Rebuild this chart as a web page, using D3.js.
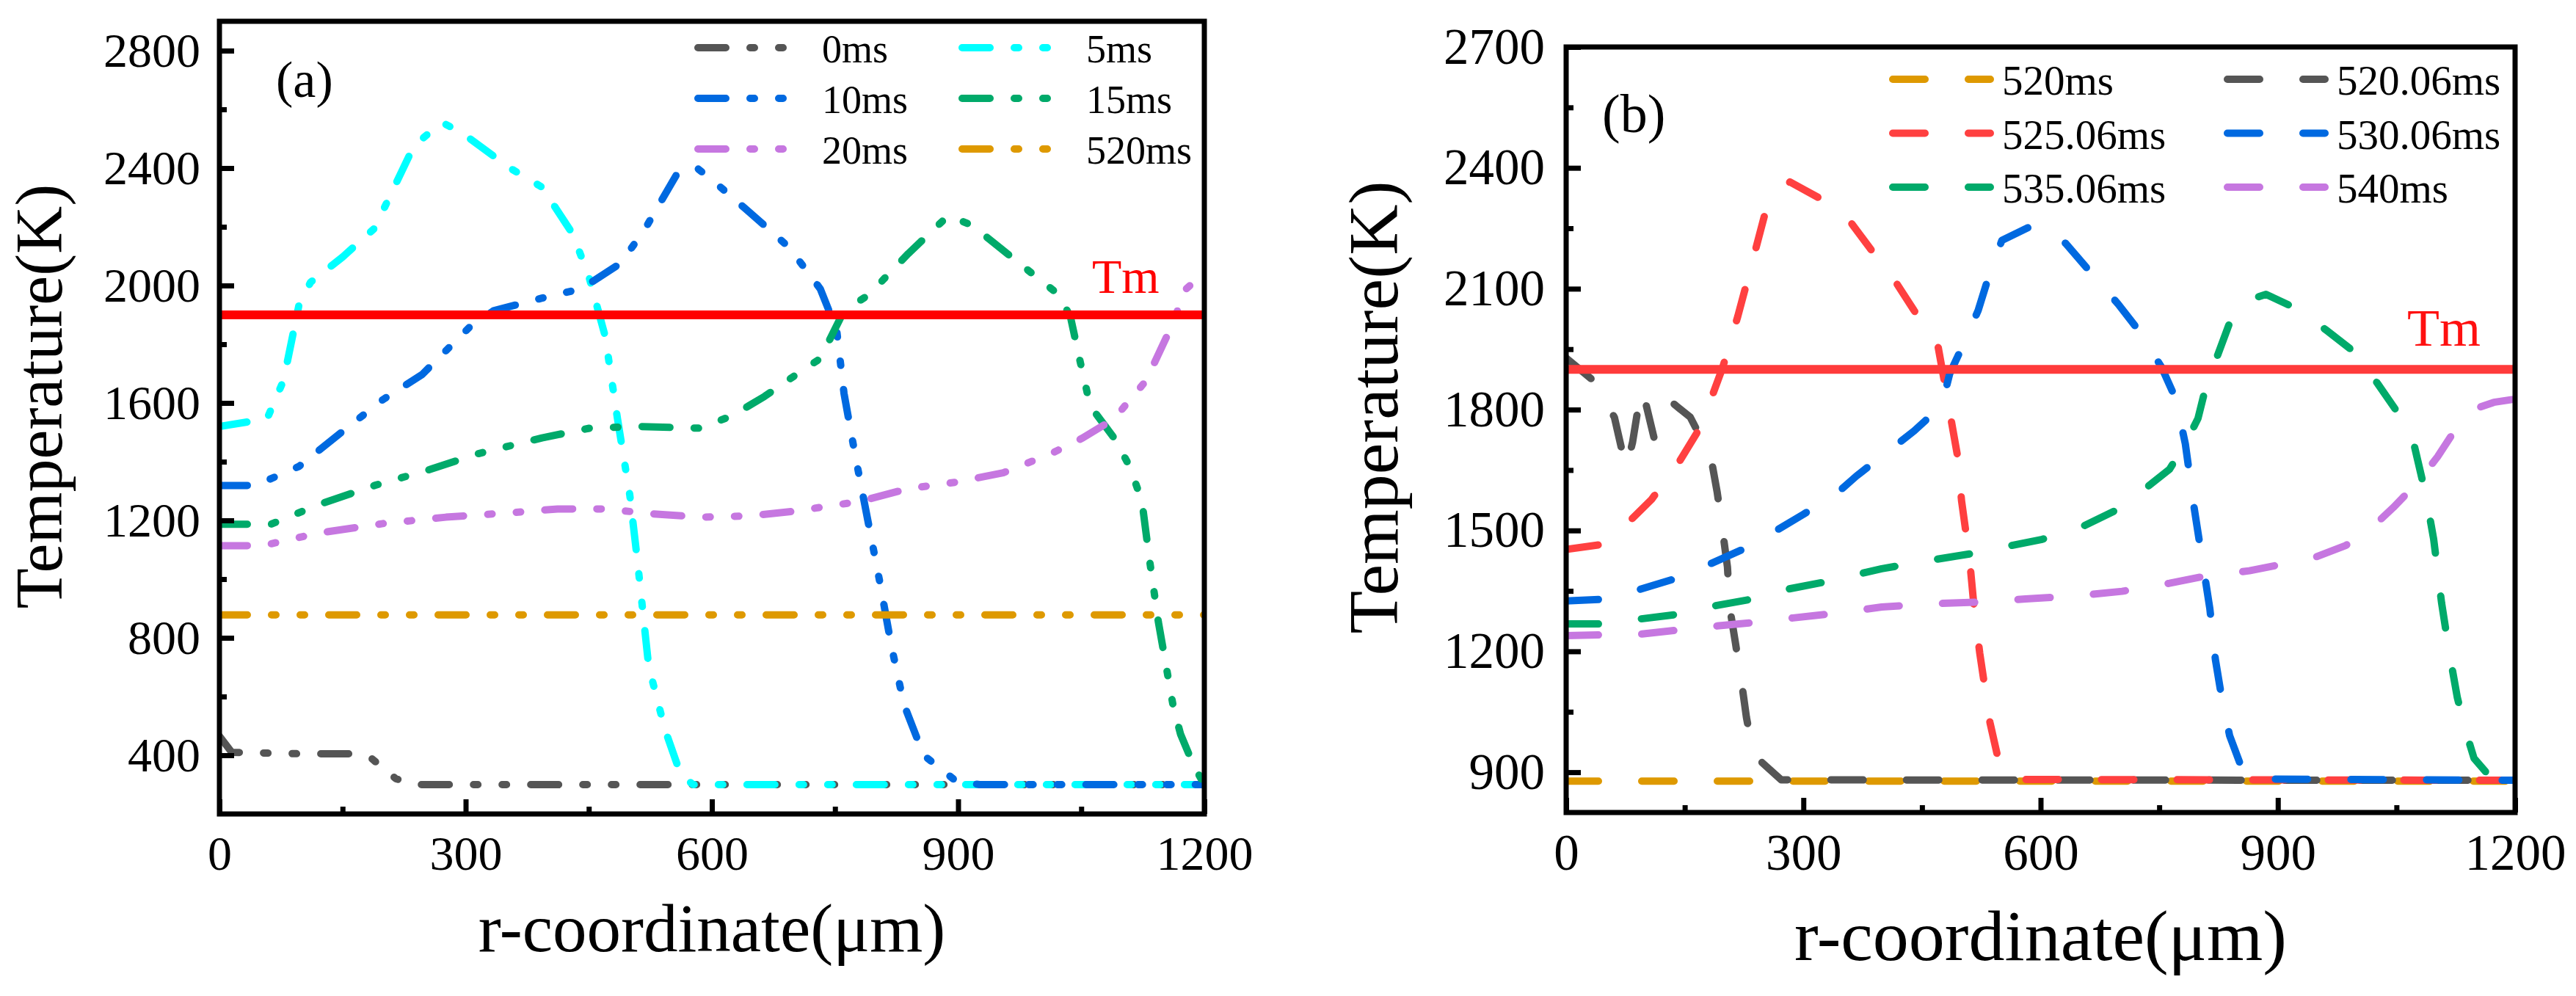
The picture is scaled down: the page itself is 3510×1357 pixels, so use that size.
<!DOCTYPE html>
<html>
<head>
<meta charset="utf-8">
<script src="https://cdn.jsdelivr.net/npm/d3@7"></script>
<style>
  body { margin: 0; background: #fff; }
  svg text { font-family: "Liberation Serif", "Times New Roman", serif; }
</style>
</head>
<body>
<svg id="chart" width="3510" height="1357"></svg>
<script>
// ---- data: panel (a), [r (um), T (K)] ----
var namesA = ["0ms", "5ms", "10ms", "15ms", "20ms", "520ms"];
var colorsA = ["#555555", "#00ffff", "#0069e0", "#00aa6a", "#c677e0", "#de9900"];

var a0ms = [[0,465],[15,410],[100,405],[160,405],[185,390],[215,320],[240,300],[1200,300]];
var a5ms = [[0,1520],[58,1546],[78,1676],[97,1935],[111,2011],[150,2097],[189,2195],[237,2476],
  [271,2556],[296,2519],[354,2400],[393,2335],[431,2173],[451,2022],[470,1827],[485,1546],
  [500,1286],[509,1070],[523,703],[543,486],[562,335],[577,300],[1200,300]];
var a10ms = [[0,1319],[44,1319],[97,1384],[150,1503],[199,1611],[247,1697],[305,1859],[334,1914],
  [393,1957],[441,1989],[489,2076],[519,2195],[557,2378],[582,2400],[606,2346],[655,2227],
  [694,2130],[732,1989],[752,1849],[761,1632],[775,1416],[790,1200],[805,984],[819,768],
  [834,573],[858,400],[897,313],[926,300],[1200,300]];
var a15ms = [[0,1187],[63,1187],[121,1254],[189,1319],[256,1373],[315,1427],[393,1481],[451,1514],
  [509,1520],[586,1514],[625,1557],[664,1622],[703,1697],[732,1751],[761,1914],[791,1968],
  [839,2108],[888,2238],[917,2205],[965,2097],[1023,1968],[1037,1892],[1047,1762],[1061,1589],
  [1090,1481],[1109,1384],[1124,1265],[1133,1070],[1144,854],[1162,568],[1171,472],[1181,405],
  [1184,380],[1200,300]];
var a20ms = [[0,1114],[53,1114],[121,1157],[199,1189],[276,1211],[354,1226],[412,1239],[470,1239],
  [529,1222],[586,1211],[645,1215],[703,1232],[781,1265],[839,1308],[897,1330],[955,1362],
  [1013,1427],[1052,1481],[1090,1546],[1129,1676],[1158,1849],[1178,1989],[1200,2043]];
var a520ms = [[0,878],[1200,878]];
var seriesA = [a0ms, a5ms, a10ms, a15ms, a20ms, a520ms];

// ---- data: panel (b) ----
var namesB = ["520ms", "520.06ms", "525.06ms", "530.06ms", "535.06ms", "540ms"];
var colorsB = ["#de9900", "#555555", "#ff4040", "#0069e0", "#00aa6a", "#c677e0"];

var b520ms = [[0,878],[1200,878]];
var b520_06 = [[0,1928],[32,1876],[61,1781],[71,1695],[76,1655],[84,1719],[91,1804],[95,1850],
  [101,1813],[111,1731],[133,1819],[157,1781],[183,1682],[191,1595],[198,1497],[204,1409],
  [207,1307],[214,1222],[222,1121],[228,1036],[237,943],[272,881],[1200,880]];
var b525_06 = [[0,1453],[41,1464],[77,1517],[108,1577],[141,1664],[165,1741],[186,1841],[198,1905],
  [217,2031],[232,2141],[253,2298],[283,2365],[323,2322],[359,2267],[389,2188],[414,2125],
  [440,2046],[470,1960],[478,1873],[485,1795],[495,1684],[500,1574],[510,1432],[516,1306],
  [523,1196],[529,1117],[536,1023],[546,936],[561,889],[581,882],[1200,880]];
var b530_06 = [[0,1325],[45,1329],[92,1353],[134,1378],[181,1416],[221,1451],[264,1498],[300,1540],
  [344,1595],[367,1635],[399,1684],[440,1747],[475,1810],[485,1889],[500,1952],[521,2046],
  [536,2141],[551,2220],[592,2259],[632,2212],[663,2141],[698,2062],[723,1999],[753,1905],
  [771,1826],[783,1715],[794,1558],[804,1432],[814,1306],[821,1180],[829,1085],[839,991],
  [854,912],[875,883],[1200,880]];
var b535_06 = [[0,1268],[45,1268],[92,1280],[138,1291],[188,1313],[233,1329],[282,1355],[324,1371],
  [399,1405],[460,1426],[521,1445],[561,1462],[602,1478],[652,1509],[693,1548],[733,1605],
  [763,1652],[783,1715],[799,1778],[809,1857],[824,1936],[839,2015],[859,2070],[885,2086],
  [920,2054],[960,1999],[996,1944],[1026,1865],[1051,1794],[1072,1715],[1087,1589],[1097,1479],
  [1107,1321],[1117,1195],[1127,1085],[1137,1006],[1148,935],[1168,889],[1198,882]];
var b540ms = [[0,1239],[45,1241],[96,1243],[138,1252],[191,1263],[235,1271],[287,1283],[330,1292],
  [399,1310],[460,1318],[521,1322],[581,1330],[642,1337],[703,1349],[763,1369],[804,1385],
  [864,1400],[905,1416],[945,1432],[986,1463],[1016,1502],[1046,1557],[1077,1620],[1102,1683],
  [1123,1746],[1148,1801],[1173,1818],[1200,1826]];
var seriesB = [b520ms, b520_06, b525_06, b530_06, b535_06, b540ms];

var meltTemp = 1900;
var xTicks = [0, 300, 600, 900, 1200];
var xMinor = [150, 450, 750, 1050];
var yTicksA = [400, 800, 1200, 1600, 2000, 2400, 2800];
var yMinorA = [600, 1000, 1400, 1800, 2200, 2600];
var yTicksB = [900, 1200, 1500, 1800, 2100, 2400, 2700];
var yMinorB = [1050, 1350, 1650, 1950, 2250, 2550];

var serif = "Liberation Serif, Times New Roman, serif";
var svg = d3.select("#chart");

function drawPanel(p) {
  var x = d3.scaleLinear().domain([0, 1200]).range([p.left, p.right]);
  var y = d3.scaleLinear().domain(p.yDomain).range([p.bottom, p.top]);
  var g = svg.append("g").attr("font-family", serif);

  g.append("clipPath").attr("id", p.id + "-clip")
    .append("rect")
    .attr("x", p.left).attr("y", p.top)
    .attr("width", p.right - p.left).attr("height", p.bottom - p.top);

  var line = d3.line()
    .x(function(d) { return x(d[0]); })
    .y(function(d) { return y(d[1]); });

  var plot = g.append("g").attr("clip-path", "url(#" + p.id + "-clip)");
  p.series.forEach(function(s, i) {
    plot.append("path")
      .attr("d", line(s))
      .attr("fill", "none")
      .attr("stroke", p.colors[i])
      .attr("stroke-width", 10)
      .attr("stroke-linecap", "round")
      .attr("stroke-linejoin", "round")
      .attr("stroke-dasharray", p.dash);
  });

  // melting point line
  plot.append("line")
    .attr("x1", p.left).attr("x2", p.right)
    .attr("y1", y(meltTemp)).attr("y2", y(meltTemp))
    .attr("stroke", p.tmColor)
    .attr("stroke-width", 12);
  g.append("text")
    .attr("x", p.tmX).attr("y", p.tmY)
    .attr("font-size", p.tmSize)
    .attr("fill", p.tmText)
    .text("Tm");

  // axes (ticks point inward)
  var fmt = d3.format("d");
  var xAxis = d3.axisBottom(x).tickValues(xTicks).tickFormat(fmt)
    .tickSizeInner(-20).tickSizeOuter(0).tickPadding(29);
  var yAxis = d3.axisLeft(y).tickValues(p.yTicks).tickFormat(fmt)
    .tickSizeInner(-20).tickSizeOuter(0).tickPadding(p.yPad);
  var xAxisMinor = d3.axisBottom(x).tickValues(xMinor).tickSizeInner(-10).tickSizeOuter(0).tickFormat("");
  var yAxisMinor = d3.axisLeft(y).tickValues(p.yMinor).tickSizeInner(-10).tickSizeOuter(0).tickFormat("");

  [[xAxis, "b"], [xAxisMinor, "b"], [yAxis, "l"], [yAxisMinor, "l"]].forEach(function(a) {
    var ag = g.append("g")
      .attr("transform", a[1] === "b" ? "translate(0," + p.bottom + ")" : "translate(" + p.left + ",0)")
      .call(a[0])
      .attr("font-family", serif)
      .attr("font-size", p.tickSize);
    ag.select(".domain").remove();
    ag.selectAll("line").attr("stroke", "#000").attr("stroke-width", 7);
    ag.selectAll("text")
      .attr("font-family", serif)
      .attr("font-size", p.tickSize)
      .attr("fill", "#000");
  });

  g.append("rect")
    .attr("x", p.left).attr("y", p.top)
    .attr("width", p.right - p.left).attr("height", p.bottom - p.top)
    .attr("fill", "none").attr("stroke", "#000").attr("stroke-width", 7);

  // axis titles
  g.append("text")
    .attr("x", (p.left + p.right) / 2).attr("y", p.xTitleY)
    .attr("text-anchor", "middle")
    .attr("font-size", p.xTitleSize)
    .text("r-coordinate(μm)");
  g.append("text")
    .attr("transform", "translate(" + p.yTitleX + "," + p.yTitleY + ") rotate(-90)")
    .attr("text-anchor", "middle")
    .attr("font-size", p.yTitleSize)
    .text("Temperature(K)");

  // panel tag
  g.append("text")
    .attr("x", p.tagX).attr("y", p.tagY)
    .attr("font-size", p.tagSize)
    .text(p.tag);

  // legend, two columns
  p.names.forEach(function(n, i) {
    var col = i % 2, row = Math.floor(i / 2);
    var lx = p.legX + col * p.legColW;
    var ly = p.legY + row * p.legRowH;
    g.append("line")
      .attr("x1", lx).attr("x2", lx + p.legLen)
      .attr("y1", ly).attr("y2", ly)
      .attr("stroke", p.colors[i])
      .attr("stroke-width", 10)
      .attr("stroke-linecap", "round")
      .attr("stroke-dasharray", p.dash);
    g.append("text")
      .attr("x", lx + p.legTextDx).attr("y", ly + p.legBase)
      .attr("font-size", p.legSize)
      .text(n);
  });
}

drawPanel({
  id: "a", left: 299, right: 1641, top: 29, bottom: 1109,
  yDomain: [200, 2900], yTicks: yTicksA, yMinor: yMinorA, yPad: 26,
  series: seriesA, colors: colorsA, names: namesA,
  dash: "38,33,6,33,6,33",
  tmColor: "#ff0000", tmText: "#ff0000", tmX: 1488, tmY: 399, tmSize: 66,
  tickSize: 66, xTitleY: 1296, xTitleSize: 93, yTitleX: 84, yTitleY: 540, yTitleSize: 90,
  tag: "(a)", tagX: 376, tagY: 132, tagSize: 70,
  legX: 951, legY: 65, legColW: 360, legRowH: 69, legLen: 118, legTextDx: 169, legBase: 20, legSize: 54
});

drawPanel({
  id: "b", left: 2134, right: 3427, top: 64, bottom: 1107,
  yDomain: [800, 2700], yTicks: yTicksB, yMinor: yMinorB, yPad: 29,
  series: seriesB, colors: colorsB, names: namesB,
  dash: "44,59",
  tmColor: "#ff3b3b", tmText: "#ff1010", tmX: 3280, tmY: 471, tmSize: 72,
  tickSize: 69, xTitleY: 1308, xTitleSize: 98, yTitleX: 1904, yTitleY: 555, yTitleSize: 96,
  tag: "(b)", tagX: 2183, tagY: 180, tagSize: 74,
  legX: 2579, legY: 108, legColW: 456, legRowH: 73.5, legLen: 133, legTextDx: 149, legBase: 21, legSize: 57
});
</script>
</body>
</html>
